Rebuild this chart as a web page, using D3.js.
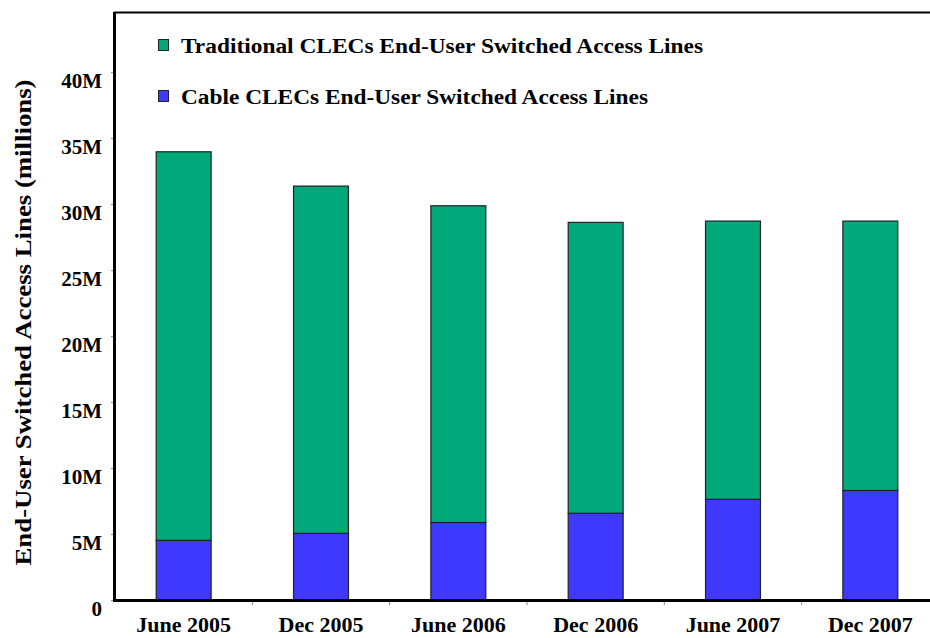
<!DOCTYPE html>
<html><head><meta charset="utf-8">
<script src="https://cdn.jsdelivr.net/npm/d3@7"></script>
<style>body{margin:0;background:#fff}svg{display:block}</style>
</head><body>
<script>
const categories = ["June 2005","Dec 2005","June 2006","Dec 2006","June 2007","Dec 2007"];
const cableLines = [4.52, 5.05, 5.87, 6.57, 7.63, 8.30];
const traditionalLines = [29.44, 26.31, 24.00, 22.04, 21.08, 20.41];
const yTicks = [0,5,10,15,20,25,30,35,40];
const seriesNames = ["Traditional CLECs End-User Switched Access Lines","Cable CLECs End-User Switched Access Lines"];
const yTitle = "End-User Switched Access Lines (millions)";

const W = 930, H = 638;
const margin = {left:115, top:12, bottom:600, right:939};
const font = "'Liberation Serif','DejaVu Serif',serif";
const green = "#00a87a", blue = "#3f38ff";

const svg = d3.select("body").append("svg").attr("width",W).attr("height",H);

const x = d3.scaleBand().domain(categories).range([margin.left, margin.right]).paddingInner(0.6).paddingOuter(0.3);
const y = d3.scaleLinear().domain([0,44.55]).range([margin.bottom, margin.top]);

const data = categories.map((c,i)=>({cat:c, cable:cableLines[i], trad:traditionalLines[i]}));
const stack = d3.stack().keys(["cable","trad"])(data);
const colors = {cable:blue, trad:green};

// top border
svg.append("line").attr("x1",margin.left-1).attr("x2",W).attr("y1",margin.top+0.5).attr("y2",margin.top+0.5)
  .attr("stroke","#000").attr("stroke-width",2);

// bars
svg.append("g").selectAll("g").data(stack).join("g")
  .attr("fill",d=>colors[d.key])
  .selectAll("rect").data(d=>d).join("rect")
  .attr("x",d=>x(d.data.cat)).attr("width",x.bandwidth())
  .attr("y",d=>y(d[1])).attr("height",d=>y(d[0])-y(d[1]))
  .attr("stroke","#222").attr("stroke-width",1.2);

// y axis
const yAxis = d3.axisLeft(y).tickValues(yTicks).tickSize(4).tickPadding(9)
  .tickFormat(d=>d===0?"0":d+"M");
const gy = svg.append("g").attr("transform",`translate(${margin.left},0)`).call(yAxis);
gy.select(".domain").remove();
gy.selectAll(".tick line").attr("stroke","#888");
gy.selectAll(".tick text").attr("dy","0.75em").attr("font-family",font).attr("font-weight","bold")
  .attr("font-size",21).attr("fill","#000");
svg.append("line").attr("x1",margin.left-0.5).attr("x2",margin.left-0.5).attr("y1",margin.top).attr("y2",margin.bottom+1.5)
  .attr("stroke","#000").attr("stroke-width",3);

// x axis
const gx = svg.append("g").attr("transform",`translate(0,${margin.bottom})`)
  .call(d3.axisBottom(x).tickSize(0).tickPadding(16));
gx.select(".domain").remove();
gx.selectAll(".tick text").attr("font-family",font).attr("font-weight","bold").attr("font-size",22).attr("fill","#000");
// category separator ticks
const seps = categories.slice(1).map(c=>x(c) - x.step()*x.paddingInner()/2);
gx.selectAll(".sep").data(seps).join("line").attr("class","sep")
  .attr("x1",d=>d).attr("x2",d=>d).attr("y1",0).attr("y2",5).attr("stroke","#888");
svg.append("line").attr("x1",margin.left-2).attr("x2",W).attr("y1",margin.bottom+0.5).attr("y2",margin.bottom+0.5)
  .attr("stroke","#000").attr("stroke-width",3);

// y title
svg.append("text").attr("transform",`translate(31,${(80+565)/2}) rotate(-90)`)
  .attr("text-anchor","middle").attr("font-family",font).attr("font-weight","bold").attr("font-size",24)
  .attr("textLength",486).attr("lengthAdjust","spacingAndGlyphs").text(yTitle);

// legend
const leg = svg.append("g");
const legColors = [green, blue];
const legWidths = [522, 467];
seriesNames.forEach((n,i)=>{
  const yy = 39 + i*51;
  leg.append("rect").attr("x",158.5).attr("y",yy+0.5).attr("width",10).attr("height",11)
    .attr("fill",legColors[i]).attr("stroke","#222").attr("stroke-width",1);
  leg.append("text").attr("x",181).attr("y",yy+14).attr("font-family",font).attr("font-weight","bold")
    .attr("font-size",20).attr("textLength",legWidths[i]).attr("lengthAdjust","spacingAndGlyphs").text(n);
});
</script>
</body></html>
